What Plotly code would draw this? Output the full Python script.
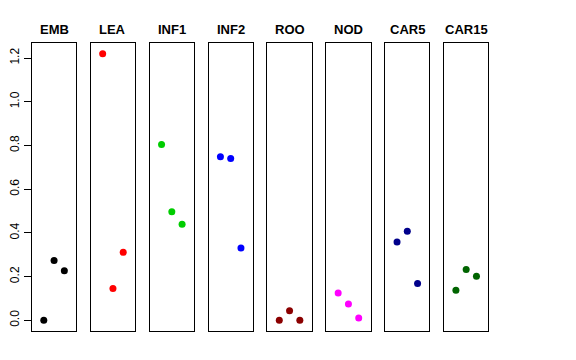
import plotly.graph_objects as go

panels = ["EMB", "LEA", "INF1", "INF2", "ROO", "NOD", "CAR5", "CAR15"]
colors = ["#000000", "#FF0000", "#00CD00", "#0000FF", "#8B0000", "#FF00FF", "#00008B", "#006400"]
positions = [1, 2, 3]
values = {
    "EMB": [0.000, 0.274, 0.227],
    "LEA": [1.220, 0.146, 0.311],
    "INF1": [0.805, 0.497, 0.439],
    "INF2": [0.749, 0.740, 0.331],
    "ROO": [0.000, 0.044, 0.000],
    "NOD": [0.125, 0.075, 0.011],
    "CAR5": [0.358, 0.407, 0.168],
    "CAR15": [0.137, 0.232, 0.201],
}
y_ticks = [0.0, 0.2, 0.4, 0.6, 0.8, 1.0, 1.2]

# page body has an 8px margin; work in figure coordinates = screen - 8
OFF = 8
W, H = 576 - OFF, 360 - OFF
left0 = 29.0 - OFF
pw = 44.6
step = (443.3 - 29.0) / 7
top_px, bot_px = 43.0 - OFF, 331.0 - OFF
title_px = 29.0 - OFF
ymin, ymax = -0.049, 1.269

fig = go.Figure()
layout = dict(
    width=W, height=H, autosize=False,
    margin=dict(l=0, r=0, t=0, b=0),
    paper_bgcolor="white", plot_bgcolor="white",
    showlegend=False,
    font=dict(family="Liberation Sans, Arial, sans-serif", color="black"),
)
annotations = []
for i, (name, col) in enumerate(zip(panels, colors)):
    k = "" if i == 0 else str(i + 1)
    x0 = left0 + i * step
    x1 = x0 + pw
    fig.add_trace(go.Scatter(
        x=positions, y=values[name], mode="markers",
        marker=dict(color=col, size=7),
        xaxis="x" + k, yaxis="y" + k, hoverinfo="skip",
    ))
    layout["xaxis" + k] = dict(
        domain=[x0 / W, x1 / W], range=[-0.16, 4.16], anchor="y" + k,
        showline=True, linecolor="black", linewidth=1, mirror=True,
        showgrid=False, zeroline=False, showticklabels=False, ticks="",
        fixedrange=True,
    )
    ya = dict(
        domain=[(H - bot_px) / H, (H - top_px) / H], range=[ymin, ymax], anchor="x" + k,
        showline=True, linecolor="black", linewidth=1, mirror=True,
        showgrid=False, zeroline=False, fixedrange=True,
    )
    if i == 0:
        ya.update(tickmode="array", tickvals=y_ticks,
                  ticktext=["%.1f" % v for v in y_ticks],
                  ticks="outside", ticklen=7, tickcolor="black", tickwidth=1,
                  tickangle=-90, tickfont=dict(size=12, color="black"))
    else:
        ya.update(showticklabels=False, ticks="")
    layout["yaxis" + k] = ya
    annotations.append(dict(
        text="<b>%s</b>" % name, x=(x0 + x1) / 2 / W, y=(H - title_px) / H,
        xref="paper", yref="paper", showarrow=False,
        xanchor="center", yanchor="middle",
        font=dict(size=13, color="black", family="Liberation Sans, Arial, sans-serif"),
    ))
layout["annotations"] = annotations
fig.update_layout(**layout)
fig.write_html("out.html")
